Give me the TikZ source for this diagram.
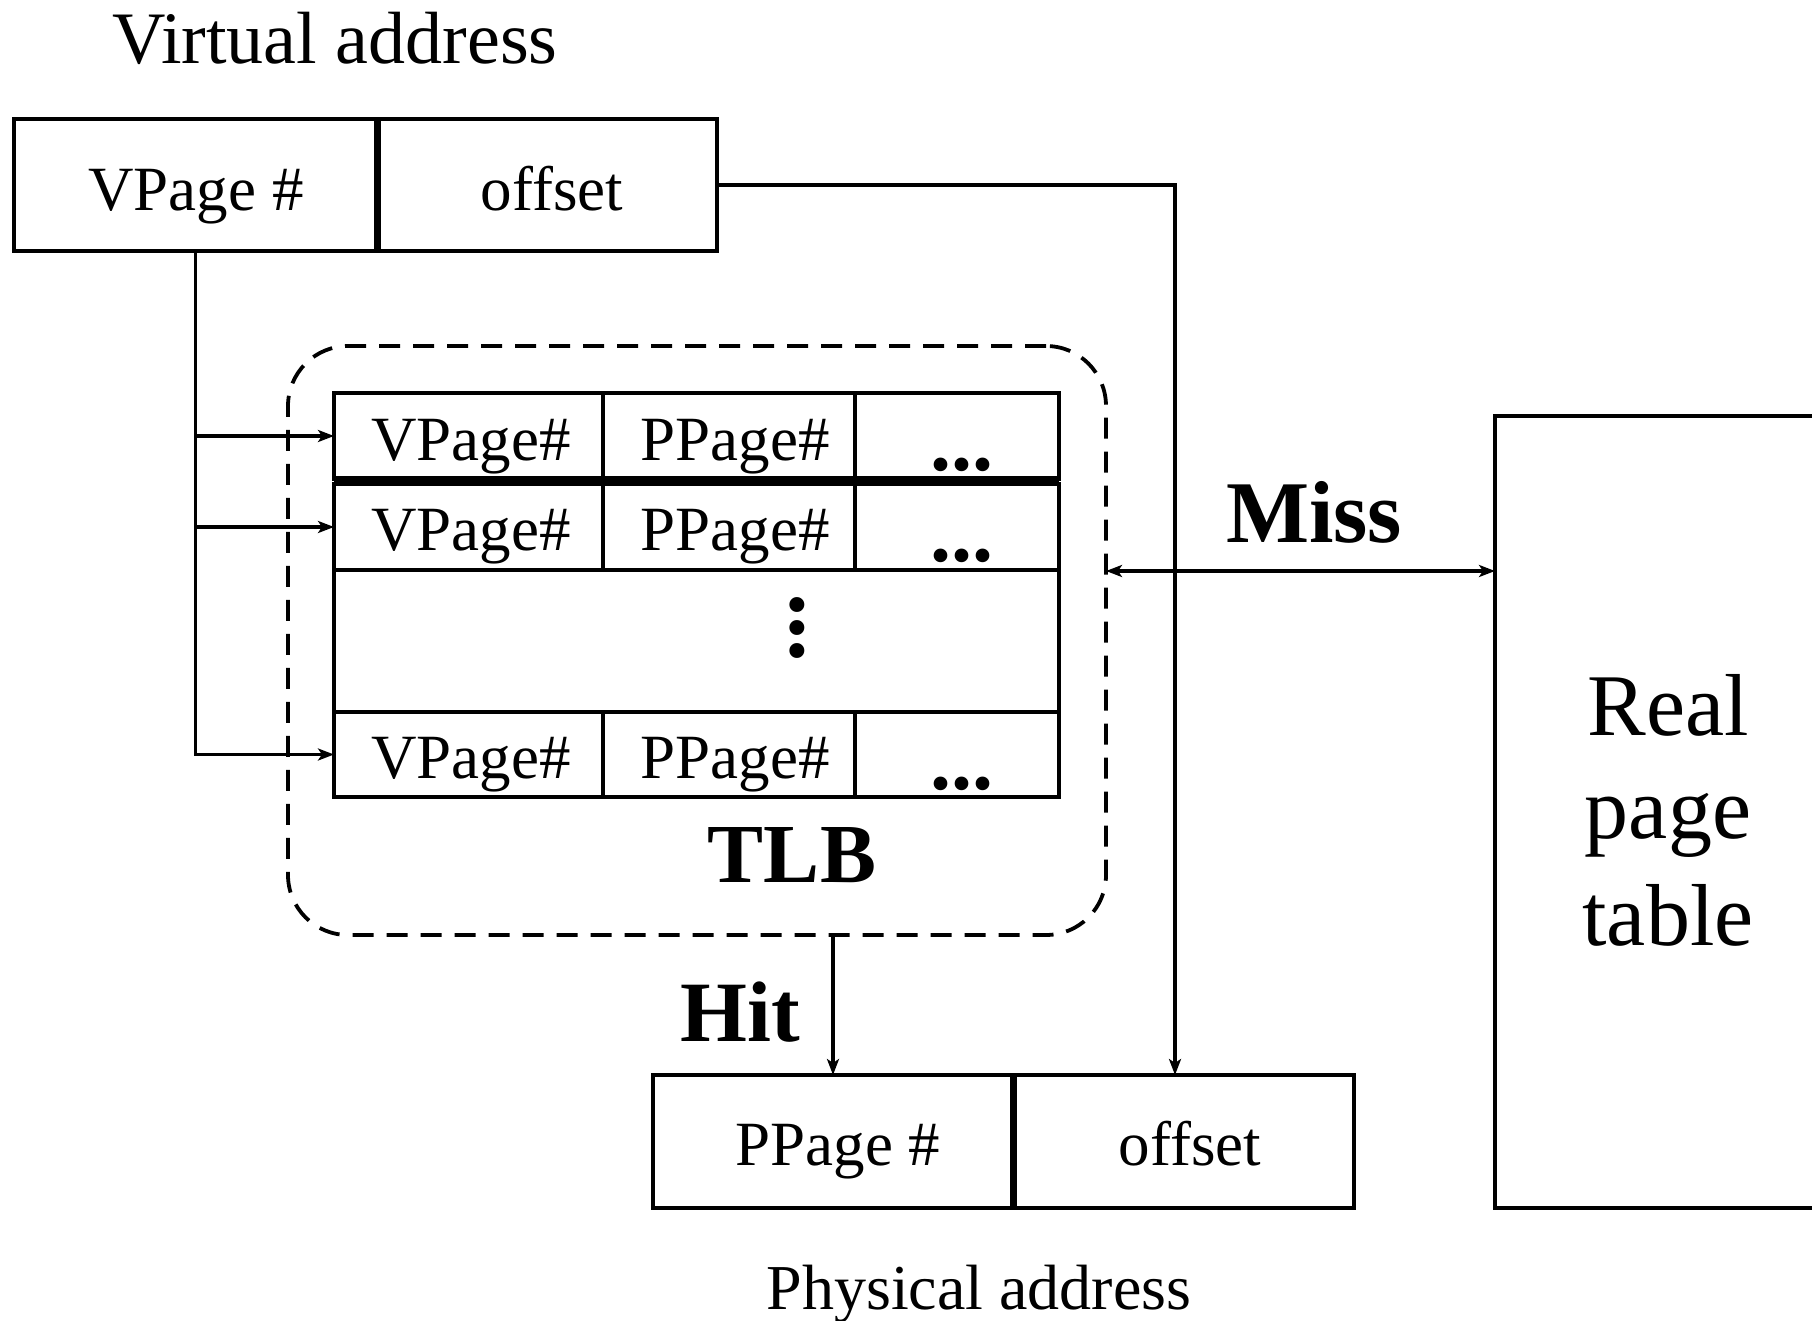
\documentclass[tikz,border=0pt]{standalone}
\usepackage{fontspec}
\setmainfont{Liberation Serif}
\usetikzlibrary{arrows.meta}
\tikzset{
  box/.style={draw, line width=4.8pt, inner sep=0pt, outer sep=0pt},
  lbl/.style={anchor=base, inner sep=0pt, font=\fontsize{63}{63}\selectfont},
  big/.style={anchor=base, inner sep=0pt, font=\fontsize{86}{86}\selectfont\bfseries},
  dots/.style={anchor=base, inner sep=0pt, font=\fontsize{84}{84}\selectfont\bfseries},
  conn/.style={line width=3.4pt},
  tip/.style={-{Stealth[length=16pt,width=12pt,inset=4pt]}},
  tips/.style={{Stealth[length=16pt,width=12pt,inset=4pt]}-{Stealth[length=16pt,width=12pt,inset=4pt]}},
}
\begin{document}
\begin{tikzpicture}[x=1pt,y=-1pt]
\useasboundingbox (0,0) rectangle (1812,1321);

% Virtual address
\node[lbl, font=\fontsize{74}{74}\selectfont] (vatitle) at (335,64) {Virtual address};
\node[box, minimum width=363pt, minimum height=132pt] (vpn) at (195.5,185) {};
\node[box, minimum width=340pt, minimum height=132pt] (voff) at (547,185) {};
\draw[line width=7pt] (vpn.north east) -- (vpn.south east);
\node[lbl] (vpnt) at (196,211) {VPage \#};
\node[lbl] (vofft) at (552,211) {offset};

% TLB dashed container
\node[draw, dashed, dash pattern=on 21pt off 13pt, line width=3.8pt, rounded corners=60pt,
      minimum width=818pt, minimum height=589pt, inner sep=0pt, outer sep=0pt] (tlb) at (697,640.5) {};

% TLB cells
\node[box, minimum width=269pt, minimum height=86pt] (c11) at (468.5,436) {};
\node[box, minimum width=252pt, minimum height=86pt] (c12) at (729,436) {};
\node[box, minimum width=204pt, minimum height=86pt] (c13) at (957,436) {};
\node[box, minimum width=269pt, minimum height=86pt] (c21) at (468.5,527) {};
\node[box, minimum width=252pt, minimum height=86pt] (c22) at (729,527) {};
\node[box, minimum width=204pt, minimum height=86pt] (c23) at (957,527) {};
\node[box, minimum width=725pt, minimum height=142pt] (gap) at (696.5,641) {};
\node[box, minimum width=269pt, minimum height=85pt] (c31) at (468.5,754.5) {};
\node[box, minimum width=252pt, minimum height=85pt] (c32) at (729,754.5) {};
\node[box, minimum width=204pt, minimum height=85pt] (c33) at (957,754.5) {};
\draw[line width=7pt] (c11.south west) -- (c13.south east);

\node[lbl] (t11) at (471,460) {VPage\#};
\node[lbl] (t12) at (735,460) {PPage\#};
\node[dots] (t13) at (962,470) {...};
\node[lbl] (t21) at (471,550) {VPage\#};
\node[lbl] (t22) at (735,550) {PPage\#};
\node[dots] (t23) at (962,561) {...};
\node[dots, anchor=center, rotate=90, font=\fontsize{92}{92}\selectfont\bfseries] (vd) at (797,628) {...};
\node[lbl] (t31) at (471,778) {VPage\#};
\node[lbl] (t32) at (735,778) {PPage\#};
\node[dots] (t33) at (962,789) {...};

\node[big, font=\fontsize{84}{84}\selectfont\bfseries] (tlbt) at (792,882) {TLB};

% Physical address
\node[box, minimum width=360pt, minimum height=133pt] (ppn) at (833,1141.5) {};
\node[box, minimum width=341pt, minimum height=133pt] (poff) at (1183.5,1141.5) {};
\draw[line width=7pt] (ppn.north east) -- (ppn.south east);
\node[lbl] (ppnt) at (838,1165) {PPage \#};
\node[lbl] (pofft) at (1190,1165) {offset};
\node[lbl, font=\fontsize{64}{64}\selectfont] (patitle) at (979,1309) {Physical address};

% Real page table
\node[box, minimum width=335pt, minimum height=792pt] (rpt) at (1662.5,812) {};
\node[anchor=base, inner sep=0pt, font=\fontsize{88}{88}\selectfont] (rpt1) at (1668,735) {Real};
\node[anchor=base, inner sep=0pt, font=\fontsize{88}{88}\selectfont] (rpt2) at (1668,838) {page};
\node[anchor=base, inner sep=0pt, font=\fontsize{88}{88}\selectfont] (rpt3) at (1668,945) {table};

% Labels
\node[big] (hit) at (740,1041) {Hit};
\node[big, font=\fontsize{88}{88}\selectfont\bfseries] (miss) at (1314,542) {Miss};

% Connectors
\coordinate (offx) at (1175,1075);
\draw[conn, tip] (voff.east) -| (offx);
\draw[conn, tip] (vpn.south) |- (c31.west);
\draw[conn, tip] (vpn.south |- c11.west) -- (c11.west);
\draw[conn, tip] (vpn.south |- c21.west) -- (c21.west);
\draw[conn, tip] (tlb.south -| ppn.north) -- (ppn.north);
\coordinate (missy) at (0,571);
\draw[conn, tips] (tlb.east |- missy) -- (rpt.west |- missy);
\end{tikzpicture}
\end{document}
